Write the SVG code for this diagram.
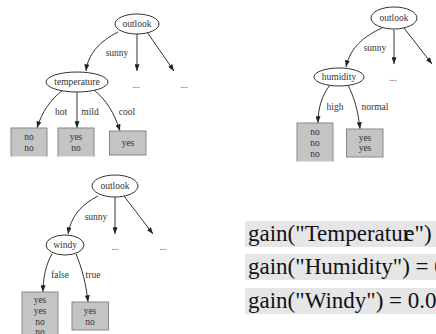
<svg xmlns="http://www.w3.org/2000/svg" width="436" height="334" viewBox="0 0 436 334">
<style>
.t{font-family:"Liberation Serif","Times New Roman",serif;font-size:9.5px;fill:#333;text-anchor:middle}
.n ellipse{fill:#fff;stroke:#333;stroke-width:1}
.b{fill:#c4c4c4;stroke:#888;stroke-width:1}
.e{fill:none;stroke:#333;stroke-width:1;marker-end:url(#ah)}
.band{fill:#e6e6e6}
.g{font-family:"Liberation Serif","Times New Roman",serif;font-size:23px;fill:#111}
</style>
<defs>
<marker id="ah" viewBox="0 0 8 6" refX="8" refY="3" markerWidth="7" markerHeight="5" orient="auto" markerUnits="userSpaceOnUse">
<path d="M0,0 L8,3 L0,6 z" fill="#222"/>
</marker>
<clipPath id="c1"><rect x="0" y="0" width="436" height="156.5"/></clipPath>
<clipPath id="c2"><rect x="0" y="0" width="436" height="161.5"/></clipPath>
</defs>
<rect width="436" height="334" fill="#fff"/>

<g id="connectors">
<path class="e" d="M118,32 C100,41 88,54 86,71"/>
<path class="e" d="M137,33 L137,71"/>
<path class="e" d="M147,32 L174,71"/>
<path class="e" d="M63,90 C50,100 42,112 37,128"/>
<path class="e" d="M77,92 L77,128"/>
<path class="e" d="M94,90 C106,100 114,112 120,131"/>
<path class="e" d="M382,28 C364,36 350,48 346,67"/>
<path class="e" d="M394,30 L394,64"/>
<path class="e" d="M404,28 L432,64"/>
<path class="e" d="M330,85 C322,95 318,108 318,123"/>
<path class="e" d="M348,85 C354,97 358,110 360,129"/>
<path class="e" d="M98,196 C82,204 71,216 68,234"/>
<path class="e" d="M115,197 L115,234"/>
<path class="e" d="M124,196 L153,234"/>
<path class="e" d="M52,254 C46,264 43,278 43,292"/>
<path class="e" d="M76,254 C82,268 86,284 88,302"/>
</g>

<g id="t1-outlook" class="n"><ellipse cx="137" cy="24" rx="22" ry="10"/><text class="t" x="137" y="27">outlook</text></g>
<g id="t1-temperature" class="n"><ellipse cx="77" cy="82" rx="31" ry="10"/><text class="t" x="77" y="85">temperature</text></g>
<g id="t1-labels">
<text class="t" x="117" y="56">sunny</text>
<text class="t" x="136" y="88">...</text>
<text class="t" x="184" y="88">...</text>
<text class="t" x="61" y="115">hot</text>
<text class="t" x="90" y="115">mild</text>
<text class="t" x="127" y="115">cool</text>
</g>
<g id="t1-box1" clip-path="url(#c1)"><rect class="b" x="11" y="128" width="36" height="40"/><text class="t" x="29" y="140">no</text><text class="t" x="29" y="151">no</text></g>
<g id="t1-box2" clip-path="url(#c1)"><rect class="b" x="58" y="128" width="36" height="40"/><text class="t" x="76" y="140">yes</text><text class="t" x="76" y="151">no</text></g>
<g id="t1-box3"><rect class="b" x="109.5" y="131" width="36.5" height="24"/><text class="t" x="128" y="146">yes</text></g>

<g id="t2-outlook" class="n"><ellipse cx="394" cy="18" rx="23" ry="11"/><text class="t" x="394" y="21">outlook</text></g>
<g id="t2-humidity" class="n"><ellipse cx="339" cy="77" rx="25" ry="9"/><text class="t" x="339" y="80">humidity</text></g>
<g id="t2-labels">
<text class="t" x="375" y="51">sunny</text>
<text class="t" x="393" y="81">...</text>
<text class="t" x="335" y="110">high</text>
<text class="t" x="375" y="110">normal</text>
</g>
<g id="t2-box1" clip-path="url(#c2)"><rect class="b" x="297" y="123" width="36" height="50"/><text class="t" x="315" y="135">no</text><text class="t" x="315" y="146">no</text><text class="t" x="315" y="157">no</text></g>
<g id="t2-box2"><rect class="b" x="346.5" y="129" width="36.5" height="28"/><text class="t" x="365" y="141">yes</text><text class="t" x="365" y="151">yes</text></g>

<g id="t3-outlook" class="n"><ellipse cx="115" cy="186" rx="23" ry="11"/><text class="t" x="115" y="189">outlook</text></g>
<g id="t3-windy" class="n"><ellipse cx="65" cy="245" rx="19" ry="10"/><text class="t" x="65" y="248">windy</text></g>
<g id="t3-labels">
<text class="t" x="96" y="220">sunny</text>
<text class="t" x="115" y="250">...</text>
<text class="t" x="163" y="250">...</text>
<text class="t" x="60" y="278">false</text>
<text class="t" x="93" y="278">true</text>
</g>
<g id="t3-box1"><rect class="b" x="22" y="292" width="36" height="50"/><text class="t" x="40" y="303">yes</text><text class="t" x="40" y="314">yes</text><text class="t" x="40" y="325">no</text><text class="t" x="40" y="335">no</text></g>
<g id="t3-box2"><rect class="b" x="72" y="302" width="36.5" height="28"/><text class="t" x="90" y="314">yes</text><text class="t" x="90" y="325">no</text></g>

<g id="gains">
<rect class="band" x="245" y="221" width="191" height="26"/>
<rect class="band" x="245" y="254" width="191" height="26"/>
<rect class="band" x="245" y="288" width="191" height="26"/>
<text class="g" x="248" y="241">gain("Temperatu<tspan>r</tspan><tspan dx="-6">e</tspan>") =</text>
<text class="g" x="248" y="274">gain("Humidity") = 0</text>
<text class="g" x="248" y="308">gain("Windy") = 0.02</text>
</g>
</svg>
